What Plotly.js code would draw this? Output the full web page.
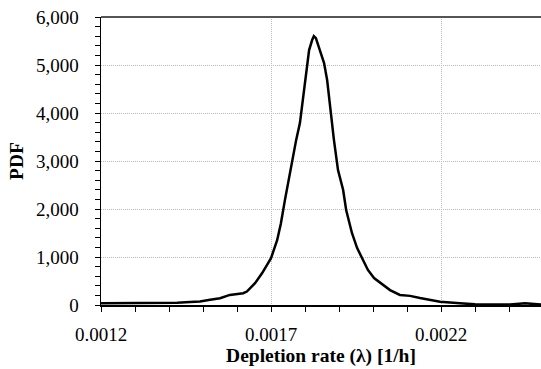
<!DOCTYPE html>
<html>
<head>
<meta charset="utf-8">
<script src="https://cdn.plot.ly/plotly-3.0.1.min.js"></script>
<style>html,body{margin:0;padding:0;background:#fff;}#chart{width:541px;height:369px;}</style>
</head>
<body>
<div id="chart"></div>
<script>
const depletionRate = [0.00120, 0.001256, 0.001315, 0.001374, 0.001424, 0.001462, 0.001491, 0.001521, 0.00155, 0.001579, 0.001618, 0.001629, 0.001653, 0.001674, 0.00170, 0.001718, 0.001729, 0.001741, 0.00175, 0.001762, 0.001774, 0.001785, 0.001794, 0.001803, 0.001812, 0.001821, 0.001826, 0.001832, 0.001841, 0.001856, 0.001865, 0.001874, 0.001885, 0.001897, 0.001912, 0.001921, 0.001938, 0.001953, 0.001968, 0.001985, 0.002003, 0.002021, 0.00205, 0.002079, 0.002109, 0.002138, 0.002197, 0.002256, 0.0023, 0.002344, 0.002403, 0.002447, 0.002494];
const pdfValues = [35, 35, 35, 35, 45, 60, 75, 110, 140, 210, 245, 280, 455, 665, 975, 1350, 1700, 2190, 2540, 3020, 3440, 3790, 4330, 4830, 5310, 5520, 5600, 5560, 5350, 5040, 4690, 4060, 3440, 2810, 2400, 1980, 1500, 1190, 980, 730, 560, 460, 310, 210, 190, 145, 70, 35, 15, 12, 10, 35, 10];
const xTickVals = [0.0012, 0.0017, 0.0022];
const xTickText = ['0.0012', '0.0017', '0.0022'];
const yTickVals = [0, 1000, 2000, 3000, 4000, 5000, 6000];
const yTickText = ['0', '1,000', '2,000', '3,000', '4,000', '5,000', '6,000'];

const font = {family: 'Liberation Serif, Times New Roman, serif', size: 19, color: '#000'};
const titleFont = {family: 'Liberation Serif, Times New Roman, serif', size: 19.5, color: '#000', weight: 'bold'};

Plotly.newPlot('chart', [{
  x: depletionRate, y: pdfValues, type: 'scatter', mode: 'lines',
  line: {color: '#000', width: 2.5}, cliponaxis: true, hoverinfo: 'skip'
}], {
  width: 541, height: 369,
  margin: {l: 101, r: 0, t: 17, b: 64},
  paper_bgcolor: '#fff', plot_bgcolor: '#fff',
  font: font,
  showlegend: false,
  xaxis: {
    range: [0.0012, 0.002494],
    tickvals: xTickVals, ticktext: xTickText,
    ticks: 'outside', ticklen: 5, tickwidth: 1, tickcolor: '#000',
    ticklabelstandoff: 6,
    showline: true, linecolor: '#000', linewidth: 2,
    showgrid: true, gridcolor: '#bbb', gridwidth: 1, griddash: '1px,1px',
    zeroline: false,
    minor: {dtick: 0.0001, tick0: 0.0012, ticks: 'outside', ticklen: 5, tickwidth: 1, tickcolor: '#000', showgrid: false},
    tickfont: font,
    title: {text: 'Depletion rate (λ) [1/h]', font: titleFont, standoff: 2}
  },
  yaxis: {
    range: [0, 6000],
    tickvals: yTickVals, ticktext: yTickText,
    ticks: 'outside', ticklen: 5, tickwidth: 1, tickcolor: '#000',
    ticklabelstandoff: 12,
    showline: true, linecolor: '#000', linewidth: 1.5,
    showgrid: true, gridcolor: '#bbb', gridwidth: 1, griddash: '1px,1px',
    zeroline: false,
    minor: {dtick: 200, tick0: 0, ticks: 'outside', ticklen: 5, tickwidth: 1, tickcolor: '#000', showgrid: false},
    tickfont: font,
    title: {text: 'PDF', font: titleFont, standoff: 7}
  },
  shapes: [{type: 'line', xref: 'paper', yref: 'paper', x0: 0, x1: 1, y0: 1, y1: 1, line: {color: '#555', width: 2}}]
}, {displayModeBar: false, staticPlot: true});
</script>
</body>
</html>
